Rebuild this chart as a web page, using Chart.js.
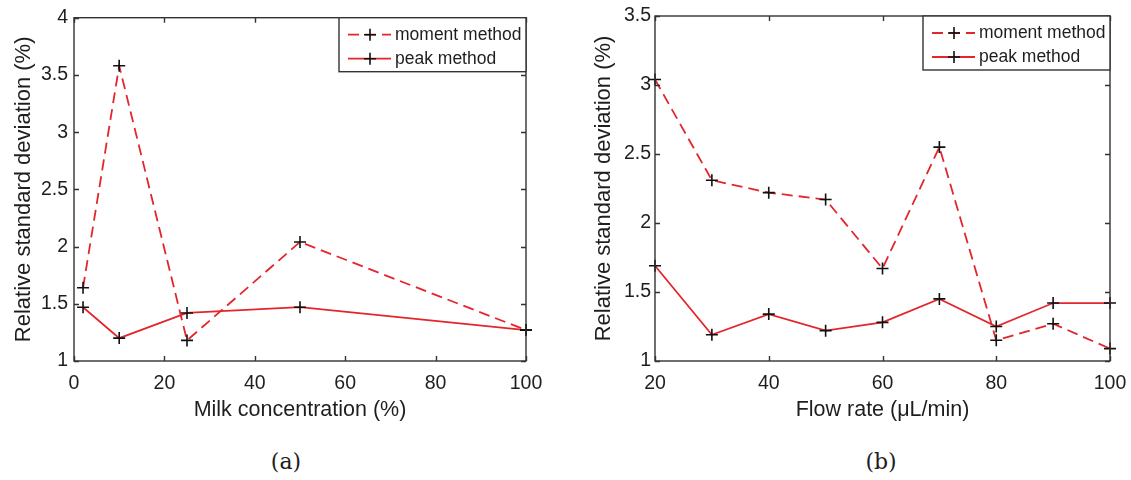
<!DOCTYPE html>
<html>
<head>
<meta charset="utf-8">
<script src="https://cdn.jsdelivr.net/npm/chart.js@4.4.0/dist/chart.umd.min.js"></script>
<style>
  body { margin: 0; background: #fff; width: 1131px; height: 480px; position: relative; overflow: hidden; }
  .box { position: absolute; top: 0; height: 440px; }
  .cap { position: absolute; font-family: "DejaVu Serif", serif; font-size: 22px; color: #1e1e1e; transform: translate(-50%, -50%); }
</style>
</head>
<body>
<div class="box" style="left:0;width:560px"><canvas id="chartA"></canvas></div>
<div class="box" style="left:580px;width:600px"><canvas id="chartB"></canvas></div>
<div class="cap" style="left:286px;top:461px">(a)</div>
<div class="cap" style="left:881px;top:461px">(b)</div>
<script>
// (a) milk concentration
const milkConc = [2, 10, 25, 50, 100];
const milkMoment = [1.64, 3.58, 1.18, 2.04, 1.27];
const milkPeak = [1.47, 1.20, 1.42, 1.47, 1.27];
const milkXTicks = [0, 20, 40, 60, 80, 100];
const milkYTicks = [1, 1.5, 2, 2.5, 3, 3.5, 4];

// (b) flow rate
const flowRate = [20, 30, 40, 50, 60, 70, 80, 90, 100];
const flowMoment = [3.04, 2.31, 2.22, 2.17, 1.67, 2.55, 1.15, 1.27, 1.09];
const flowPeak = [1.69, 1.19, 1.34, 1.22, 1.28, 1.45, 1.25, 1.42, 1.42];
const flowXTicks = [20, 40, 60, 80, 100];
const flowYTicks = [1, 1.5, 2, 2.5, 3, 3.5];

const seriesNames = ["moment method", "peak method"];

const RED = "#e3262b";
const INK = "#1e1e1e";
const DASH = [11, 6];

Chart.defaults.font.family = "'Liberation Sans', Arial, sans-serif";
Chart.defaults.color = INK;

function toPoints(xs, ys) {
    return xs.map((x, i) => ({ x: x, y: ys[i] }));
}

// matlab style box, inward ticks and a boxed legend in the top right corner
const framePlugin = {
    id: "frame",
    afterDatasetsDraw(chart) {
        const { ctx, chartArea: a, scales } = chart;
        ctx.save();
        ctx.strokeStyle = "#333";
        ctx.lineWidth = 1.4;
        ctx.strokeRect(a.left, a.top, a.right - a.left, a.bottom - a.top);
        const len = 5;
        ctx.beginPath();
        scales.x.ticks.forEach(t => {
            const px = Math.round(scales.x.getPixelForValue(t.value)) + 0.5;
            ctx.moveTo(px, a.bottom); ctx.lineTo(px, a.bottom - len);
            ctx.moveTo(px, a.top); ctx.lineTo(px, a.top + len);
        });
        scales.y.ticks.forEach(t => {
            const py = Math.round(scales.y.getPixelForValue(t.value)) + 0.5;
            ctx.moveTo(a.left, py); ctx.lineTo(a.left + len, py);
            ctx.moveTo(a.right, py); ctx.lineTo(a.right - len, py);
        });
        ctx.stroke();

        // legend
        const w = 187, h = 54;
        const lx = a.right - w, ly = a.top;
        ctx.fillStyle = "#fff";
        ctx.fillRect(lx, ly, w, h);
        ctx.strokeRect(lx, ly, w, h);
        ctx.font = "17.5px 'Liberation Sans', Arial, sans-serif";
        ctx.textBaseline = "middle";
        chart.data.datasets.forEach((ds, i) => {
            const ry = ly + 17 + i * 24;
            ctx.strokeStyle = RED;
            ctx.lineWidth = 1.8;
            ctx.setLineDash(ds.borderDash || []);
            ctx.beginPath();
            ctx.moveTo(lx + 9, ry); ctx.lineTo(lx + 52, ry);
            ctx.stroke();
            ctx.setLineDash([]);
            ctx.strokeStyle = "#111";
            ctx.lineWidth = 1.6;
            ctx.beginPath();
            ctx.moveTo(lx + 25, ry); ctx.lineTo(lx + 37, ry);
            ctx.moveTo(lx + 31, ry - 6); ctx.lineTo(lx + 31, ry + 6);
            ctx.stroke();
            ctx.fillStyle = INK;
            ctx.fillText(ds.label, lx + 56, ry);
        });
        ctx.restore();
    }
};

function makePlot(canvasId, xs, moment, peak, xTicks, yTicks, xTitle, yAxisWidth, yTickPad, rightPad) {
    return new Chart(document.getElementById(canvasId), {
        type: "line",
        data: {
            datasets: [
                {
                    label: seriesNames[0],
                    data: toPoints(xs, moment),
                    borderColor: RED,
                    borderWidth: 1.8,
                    borderDash: DASH,
                    pointStyle: "cross",
                    pointRadius: 6,
                    pointBorderColor: "#111",
                    pointBorderWidth: 1.6,
                    tension: 0,
                    clip: false
                },
                {
                    label: seriesNames[1],
                    data: toPoints(xs, peak),
                    borderColor: RED,
                    borderWidth: 1.8,
                    pointStyle: "cross",
                    pointRadius: 6,
                    pointBorderColor: "#111",
                    pointBorderWidth: 1.6,
                    tension: 0,
                    clip: false
                }
            ]
        },
        options: {
            responsive: true,
            maintainAspectRatio: false,
            animation: false,
            layout: { padding: { top: 16, left: 0, right: rightPad, bottom: 0 } },
            scales: {
                x: {
                    type: "linear",
                    min: xTicks[0],
                    max: xTicks[xTicks.length - 1],
                    afterBuildTicks: s => { s.ticks = xTicks.map(v => ({ value: v })); },
                    afterFit: s => { s.height = 79; },
                    grid: { display: false, drawTicks: false },
                    border: { display: false },
                    ticks: { font: { size: 19.5 }, padding: 11, color: INK, maxRotation: 0 },
                    title: { display: true, text: xTitle, font: { size: 21.5 }, color: INK, padding: { bottom: 17, top: 0 } }
                },
                y: {
                    min: yTicks[0],
                    max: yTicks[yTicks.length - 1],
                    afterBuildTicks: s => { s.ticks = yTicks.map(v => ({ value: v })); },
                    afterFit: s => { s.width = yAxisWidth; },
                    grid: { display: false, drawTicks: false },
                    border: { display: false },
                    ticks: { font: { size: 19.5 }, padding: yTickPad, color: INK, callback: v => String(v) },
                    title: { display: true, text: "Relative standard deviation (%)", font: { size: 22 }, color: INK, padding: { top: 11, bottom: 0 } }
                }
            },
            plugins: {
                legend: { display: false },
                tooltip: { enabled: false }
            }
        },
        plugins: [framePlugin]
    });
}

makePlot("chartA", milkConc, milkMoment, milkPeak, milkXTicks, milkYTicks, "Milk concentration (%)", 74, 6, 34);
makePlot("chartB", flowRate, flowMoment, flowPeak, flowXTicks, flowYTicks, "Flow rate (\u03bcL/min)", 75, 4, 70);
</script>
</body>
</html>
